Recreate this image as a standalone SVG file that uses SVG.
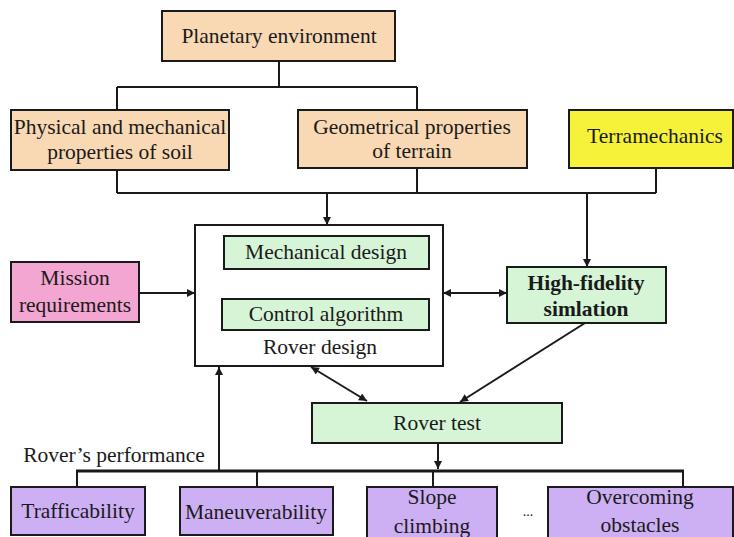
<svg xmlns="http://www.w3.org/2000/svg" width="734" height="537" viewBox="0 0 734 537">
<style>
.box{stroke:#1a1a1a;stroke-width:2}
.tan{fill:#F9D8B4}
.yel{fill:#F6F23A}
.pink{fill:#F4A6D2}
.grn{fill:#D6F5D6}
.pur{fill:#CDB0F4}
.wht{fill:#ffffff}
text{font-family:'Liberation Serif','DejaVu Serif',serif;font-size:21.5px;fill:#1a1a1a;text-anchor:middle}
.b{font-weight:bold}
.ln{fill:none;stroke:#1a1a1a;stroke-width:2}
.thick{stroke-width:3}
</style>
<defs>
<marker id="ah" viewBox="0 0 10 10" refX="10" refY="5" markerWidth="10" markerHeight="8" markerUnits="userSpaceOnUse" orient="auto-start-reverse">
<path d="M0,0 L10,5 L0,10 z" fill="#1a1a1a"/>
</marker>
</defs>
<rect width="734" height="537" fill="#ffffff"/>
<g id="connectors">
<path class="ln" d="M279,61 V87 M117,87 H417 M117,87 V110 M417,87 V110"/>
<path class="ln" d="M117,170 V193 M417,168 V193 M656,168 V193 M117,193 H656"/>
<path class="ln" d="M327,193 V225" marker-end="url(#ah)"/>
<path class="ln" d="M587,193 V267" marker-end="url(#ah)"/>
<path class="ln" d="M326,269 V299" marker-start="url(#ah)" marker-end="url(#ah)"/>
<path class="ln" d="M139,293 H195" marker-end="url(#ah)"/>
<path class="ln" d="M443,293 H507" marker-start="url(#ah)" marker-end="url(#ah)"/>
<path class="ln" d="M585,323 L460,402" marker-end="url(#ah)"/>
<path class="ln" d="M311,367 L367,401" marker-start="url(#ah)" marker-end="url(#ah)"/>
<path class="ln" d="M438,443 V469" marker-end="url(#ah)"/>
<path class="ln thick" d="M76,471 H684"/>
<path class="ln" d="M219,471 V367" marker-end="url(#ah)"/>
<path class="ln" d="M77,471 V487 M257,471 V487 M433,471 V487 M683,471 V487"/>
</g>
<g id="planetary">
<rect class="box tan" x="162" y="11" width="233" height="50"/>
<text x="279" y="43" font-family="Liberation Serif, serif">Planetary environment</text>
</g>
<g id="soil">
<rect class="box tan" x="11" y="110" width="218" height="60"/>
<text x="120" y="134">Physical and mechanical</text>
<text x="120" y="159">properties of soil</text>
</g>
<g id="terrain">
<rect class="box tan" x="298" y="110" width="229" height="58"/>
<text x="412" y="134">Geometrical properties</text>
<text x="412" y="158">of terrain</text>
</g>
<g id="terramechanics">
<rect class="box yel" x="569" y="110" width="164" height="58"/>
<text x="655" y="143">Terramechanics</text>
</g>
<g id="mission">
<rect class="box pink" x="11" y="262" width="128" height="60"/>
<text x="75" y="285">Mission</text>
<text x="75" y="312">requirements</text>
</g>
<g id="rover-design">
<rect class="box wht" x="195" y="225" width="248" height="141"/>
<text x="320" y="354">Rover design</text>
</g>
<g id="mechanical-design">
<rect class="box grn" x="224" y="236" width="205" height="33"/>
<text x="326" y="259">Mechanical design</text>
</g>
<g id="control-algorithm">
<rect class="box grn" x="222" y="299" width="207" height="31"/>
<text x="326" y="321">Control algorithm</text>
</g>
<g id="high-fidelity">
<rect class="box grn" x="507" y="267" width="159" height="56"/>
<text class="b" x="586" y="290">High-fidelity</text>
<text class="b" x="586" y="316">simlation</text>
</g>
<g id="rover-test">
<rect class="box grn" x="312" y="403" width="250" height="40"/>
<text x="437" y="430">Rover test</text>
</g>
<g id="performance-label">
<text x="114" y="462">Rover’s performance</text>
</g>
<g id="trafficability">
<rect class="box pur" x="11" y="487" width="134" height="48"/>
<text x="78" y="518">Trafficability</text>
</g>
<g id="maneuverability">
<rect class="box pur" x="180" y="487" width="153" height="48"/>
<text x="256" y="519">Maneuverability</text>
</g>
<g id="slope">
<rect class="box pur" x="367" y="487" width="130" height="52"/>
<text x="432" y="504">Slope</text>
<text x="432" y="533">climbing</text>
</g>
<g id="dots">
<text x="528" y="516" style="font-size:14px">...</text>
</g>
<g id="obstacles">
<rect class="box pur" x="548" y="487" width="185" height="52"/>
<text x="640" y="504">Overcoming</text>
<text x="640" y="532">obstacles</text>
</g>
</svg>
